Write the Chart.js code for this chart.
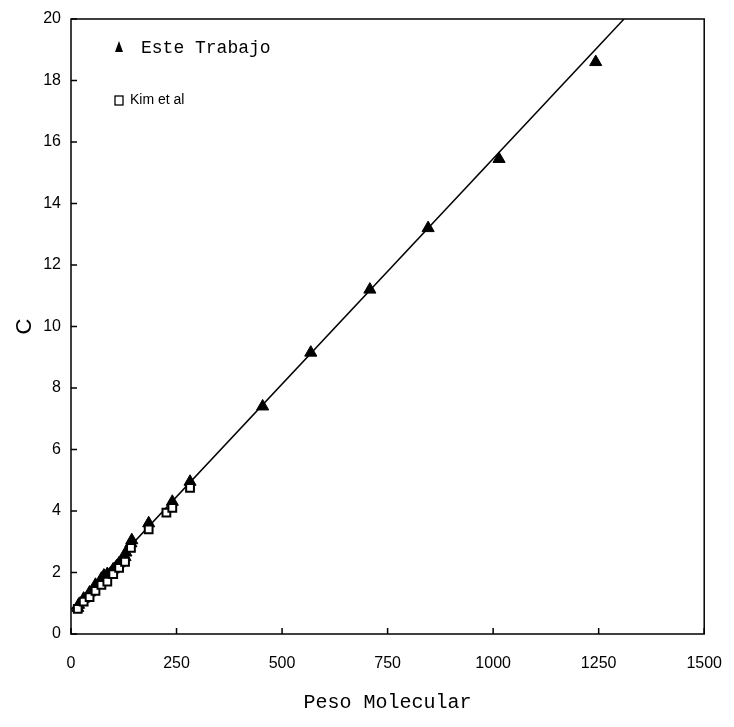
<!DOCTYPE html>
<html>
<head>
<meta charset="utf-8">
<script src="https://cdn.jsdelivr.net/npm/chart.js@4"></script>
<style>
  body { margin: 0; background: #fff; }
  #wrap { width: 734px; height: 727px; }
</style>
</head>
<body>
<div id="wrap"><canvas id="cChart" width="734" height="727"></canvas></div>
<script>
// Este Trabajo (triangles)
const esteX = [16, 18, 30, 44, 58, 72, 78, 86, 100, 108, 114, 122, 128, 130, 142, 144, 184, 240, 282, 454, 568, 708, 846, 1014, 1243];
const esteY = [0.85, 0.95, 1.15, 1.35, 1.6, 1.8, 1.9, 1.95, 2.1, 2.2, 2.3, 2.4, 2.5, 2.65, 2.95, 3.05, 3.6, 4.3, 4.95, 7.4, 9.15, 11.2, 13.2, 15.45, 18.6];
// Kim et al (open squares)
const kimX = [16, 30, 44, 58, 72, 86, 100, 114, 128, 142, 184, 226, 240, 282];
const kimY = [0.82, 1.05, 1.2, 1.4, 1.6, 1.7, 1.95, 2.15, 2.35, 2.8, 3.4, 3.95, 4.1, 4.75];
// fitted line end points
const fitX = [0, 1310];
const fitY = [0.8, 20];

const xTicks = [0, 250, 500, 750, 1000, 1250, 1500];
const yTicks = [0, 2, 4, 6, 8, 10, 12, 14, 16, 18, 20];

const toPts = (xs, ys) => xs.map((v, i) => ({ x: v, y: ys[i] }));

// frame, inward tick marks and the in-plot legend
const framePlugin = {
    id: 'frame',
    afterDraw(chart) {
        const { ctx, chartArea: a, scales: { x, y } } = chart;
        ctx.save();
        ctx.strokeStyle = '#000';
        ctx.lineWidth = 1.5;
        ctx.strokeRect(a.left, a.top, a.right - a.left, a.bottom - a.top);
        ctx.beginPath();
        xTicks.forEach(v => {
            const px = x.getPixelForValue(v);
            ctx.moveTo(px, a.bottom);
            ctx.lineTo(px, a.bottom - 6);
        });
        yTicks.forEach(v => {
            const py = y.getPixelForValue(v);
            ctx.moveTo(a.left, py);
            ctx.lineTo(a.left + 6, py);
        });
        ctx.stroke();

        // legend
        const lx = a.left + 48;
        ctx.fillStyle = '#000';
        ctx.beginPath();
        ctx.moveTo(lx, 22 + a.top);
        ctx.lineTo(lx - 4, 33 + a.top);
        ctx.lineTo(lx + 4, 33 + a.top);
        ctx.closePath();
        ctx.fill();
        ctx.font = '18px "Liberation Mono"';
        ctx.textBaseline = 'middle';
        ctx.fillText('Este Trabajo', lx + 22, a.top + 29);

        ctx.lineWidth = 1.3;
        ctx.strokeRect(lx - 4, a.top + 77, 8, 9);
        ctx.font = '14px "Liberation Sans"';
        ctx.fillText('Kim et al', lx + 11, a.top + 81);
        ctx.restore();
    }
};

const ctx = document.getElementById('cChart').getContext('2d');
new Chart(ctx, {
    type: 'scatter',
    data: {
        datasets: [
            {
                label: 'Kim et al',
                data: toPts(kimX, kimY),
                pointStyle: 'rect',
                pointRadius: 5.5,
                pointBackgroundColor: '#fff',
                pointBorderColor: '#000',
                pointBorderWidth: 2
            },
            {
                label: 'Este Trabajo',
                data: toPts(esteX, esteY),
                pointStyle: 'triangle',
                pointRadius: 7,
                pointBackgroundColor: '#000',
                pointBorderColor: '#000',
                pointBorderWidth: 1
            },
            {
                label: 'ajuste',
                data: toPts(fitX, fitY),
                showLine: true,
                pointRadius: 0,
                borderColor: '#000',
                borderWidth: 1.5
            }
        ]
    },
    options: {
        responsive: false,
        animation: false,
        layout: { padding: { left: 0, right: 21, top: 19, bottom: 8 } },
        plugins: {
            legend: { display: false },
            tooltip: { enabled: false }
        },
        scales: {
            x: {
                type: 'linear',
                min: 0,
                max: 1500,
                afterBuildTicks: s => { s.ticks = xTicks.map(v => ({ value: v })); },
                afterFit: s => { s.height = 85; },
                grid: { display: false },
                border: { display: false },
                ticks: {
                    color: '#000',
                    padding: 12,
                    callback: v => String(v),
                    font: { family: 'Liberation Sans', size: 16 }
                },
                title: {
                    display: true,
                    text: 'Peso Molecular',
                    color: '#000',
                    padding: { top: 28 },
                    font: { family: 'Liberation Mono', size: 20 }
                }
            },
            y: {
                type: 'linear',
                min: 0,
                max: 20,
                afterBuildTicks: s => { s.ticks = yTicks.map(v => ({ value: v })); },
                afterFit: s => { s.width = 71; },
                grid: { display: false },
                border: { display: false },
                ticks: {
                    color: '#000',
                    padding: 2,
                    callback: v => String(v),
                    font: { family: 'Liberation Sans', size: 16 }
                },
                title: {
                    display: true,
                    text: 'C',
                    color: '#000',
                    padding: { top: 12, bottom: 14 },
                    font: { family: 'Liberation Sans', size: 22 }
                }
            }
        }
    },
    plugins: [framePlugin]
});
</script>
</body>
</html>
